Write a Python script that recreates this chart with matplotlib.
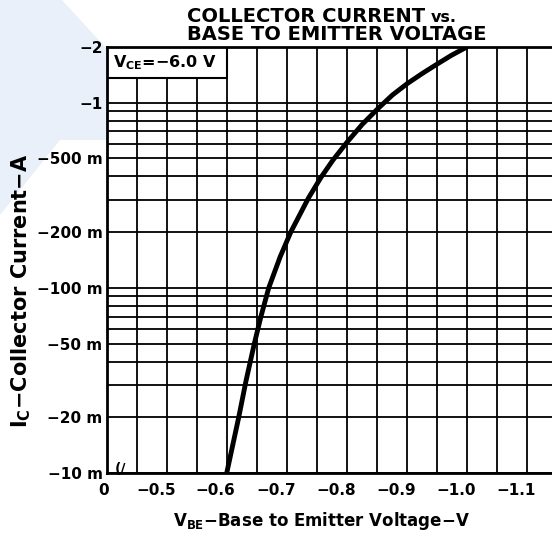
import matplotlib
matplotlib.use('Agg')
import matplotlib.pyplot as plt
import matplotlib.transforms as mtransforms
from matplotlib.patches import Rectangle, Polygon

plt.rcParams['font.family'] = ['DejaVu Sans']
plt.rcParams['mathtext.default'] = 'bf'

# Datos (magnitudes, la grafica es para un PNP)
vbe = [0.600, 0.620, 0.632, 0.646, 0.657, 0.670, 0.689, 0.707, 0.736, 0.757,
       0.777, 0.801, 0.826, 0.852, 0.876, 0.901, 0.926, 0.951, 0.974, 1.000]
ic = [0.010, 0.020, 0.0313, 0.050, 0.070, 0.100, 0.147, 0.201, 0.305, 0.395,
      0.490, 0.615, 0.765, 0.930, 1.10, 1.27, 1.44, 1.62, 1.80, 2.00]

# Ejes y etiquetas
x_ticks = [0.40, 0.5, 0.6, 0.7, 0.8, 0.9, 1.0, 1.1]
x_labels = ['0', '\u22120.5', '\u22120.6', '\u22120.7', '\u22120.8', '\u22120.9', '\u22121.0', '\u22121.1']
x_grid = [0.45, 0.55, 0.65, 0.75, 0.85, 0.95, 1.05]
y_ticks = [2, 1, 0.5, 0.2, 0.1, 0.05, 0.02, 0.01]
y_labels = ['\u22122', '\u22121', '\u2212500 m', '\u2212200 m', '\u2212100 m', '\u221250 m', '\u221220 m', '\u221210 m']
y_grid = [0.9, 0.8, 0.7, 0.6, 0.4, 0.3, 0.09, 0.08, 0.07, 0.06, 0.04, 0.03]

W, H = 552, 538
fig = plt.figure(figsize=(W / 100, H / 100), dpi=100)

# marca de agua azul clara del escaneo
wm = '#eaf0f9'
for pts in ([(0, 0), (62, 0), (165, 112), (150, 140), (0, 140)],
            [(0, 140), (60, 140), (0, 215)]):
    fig.patches.append(Polygon([(x / W, 1 - y / H) for x, y in pts], closed=True,
                               transform=fig.transFigure, facecolor=wm, edgecolor='none', zorder=-5))

ax = fig.add_axes([106.7 / W, 1 - 473 / H, 1 - 106.7 / W, (473 - 47) / H])
ax.set_zorder(1)
ax.patch.set_facecolor('white')

ax.plot(vbe, ic, color='black', linewidth=3.5, solid_capstyle='butt', solid_joinstyle='round', zorder=4)

ax.set_yscale('log')
ax.set_xlim(0.40, 1.142)
ax.set_ylim(0.01, 2)

ax.set_xticks(x_ticks)
ax.set_xticklabels(x_labels)
ax.set_xticks(x_grid, minor=True)
ax.set_yticks(y_ticks)
ax.set_yticklabels(y_labels)
ax.set_yticks(y_grid, minor=True)
ax.tick_params(which='both', length=0)
ax.tick_params(axis='x', pad=7, labelsize=11)
ax.tick_params(axis='y', pad=3, labelsize=11)
for t in ax.get_xticklabels() + ax.get_yticklabels():
    t.set_fontweight('bold')

# las etiquetas del eje x estan corridas a la izquierda
off = mtransforms.ScaledTranslation(-11 / 100, 0, fig.dpi_scale_trans)
for t in ax.get_xticklabels()[1:]:
    t.set_transform(t.get_transform() + off)
off0 = mtransforms.ScaledTranslation(-3 / 100, 0, fig.dpi_scale_trans)
ax.get_xticklabels()[0].set_transform(ax.get_xticklabels()[0].get_transform() + off0)

ax.grid(True, which='both', color='black', linewidth=1.3)
ax.set_axisbelow(True)
for s in ['left', 'top', 'bottom']:
    ax.spines[s].set_linewidth(2.0)
ax.spines['right'].set_visible(False)

# recuadro con la condicion de prueba
ax.add_patch(Rectangle((0.40, 1.36), 0.20, 0.64, facecolor='white', edgecolor='black',
                       linewidth=1.5, zorder=2.5))
ax.text(0.41, 1.65, 'V$_{CE}$=\u22126.0 V', fontsize=11.5,
        fontweight='bold', va='center', ha='left', zorder=5)

# simbolo de corte del eje
ax.text(0.423, 0.0105, '(/', fontsize=10, fontweight='bold', ha='center', va='center', zorder=5)

# titulos ("vs." va mas chico)
t1 = fig.text(187 / W, 1 - 17 / H, 'COLLECTOR CURRENT', fontsize=14, fontweight='bold',
              ha='left', va='center')
bb = t1.get_window_extent(fig.canvas.get_renderer())
fig.text((bb.x1 + 6) / W, 1 - 18 / H, 'vs.', fontsize=11.5, fontweight='bold',
         ha='left', va='center')
fig.text(187 / W, 1 - 35 / H, 'BASE TO EMITTER VOLTAGE', fontsize=14, fontweight='bold',
         ha='left', va='center')
fig.text(321 / W, 1 - 521 / H, 'V$_{BE}$\u2212Base to Emitter Voltage\u2212V',
         fontsize=12, fontweight='bold', ha='center', va='center')
fig.text(21 / W, 1 - 291 / H, 'I$_{C}$\u2212Collector Current\u2212A',
         fontsize=15, fontweight='bold', ha='center', va='center', rotation=90)

fig.savefig('out.png', dpi=100)
